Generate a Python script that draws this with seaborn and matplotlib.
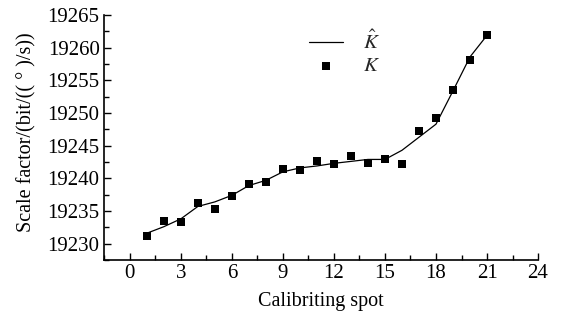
"""Scale factor calibration curve."""

import matplotlib

matplotlib.use("Agg")
import matplotlib.pyplot as plt
import pandas as pd
import seaborn as sns
from matplotlib.ticker import MultipleLocator

spots = list(range(1, 22))
k_measured = [
    19231.2, 19233.5, 19233.3, 19236.3, 19235.3, 19237.3, 19239.1,
    19239.4, 19241.4, 19241.3, 19242.6, 19242.2, 19243.4, 19242.4,
    19242.9, 19242.2, 19247.2, 19249.2, 19253.5, 19258.1, 19262.0,
]
k_fitted = [
    19231.6, 19232.6, 19233.8, 19235.7, 19236.4, 19237.4, 19238.9,
    19239.7, 19241.0, 19241.6, 19241.9, 19242.3, 19242.6, 19242.9,
    19242.9, 19244.3, 19246.3, 19248.3, 19253.4, 19258.6, 19261.9,
]

df = pd.DataFrame({"spot": spots, "K": k_measured, "K_hat": k_fitted})

sns.set_theme(style="ticks")
plt.rcParams["font.family"] = ["Liberation Serif", "DejaVu Serif"]
plt.rcParams["mathtext.fontset"] = "stix"
plt.rcParams["xtick.direction"] = "in"
plt.rcParams["ytick.direction"] = "in"

fig = plt.figure(figsize=(5.64, 3.21), dpi=100)
ax = fig.add_axes([0.184, 0.19, 0.77, 0.763])

sns.lineplot(data=df, x="spot", y="K_hat", ax=ax, color="black", linewidth=0.9,
             label=r"$\hat{K}$")
sns.scatterplot(data=df, x="spot", y="K", ax=ax, color="black", marker="s",
                s=32, edgecolor="black", linewidth=0, label=r"$K$")

ax.set_xlim(-1.53, 24)
ax.set_ylim(19227.5, 19265)
ax.xaxis.set_major_locator(MultipleLocator(3))
ax.xaxis.set_minor_locator(MultipleLocator(1.5))
ax.yaxis.set_major_locator(MultipleLocator(5))
ax.yaxis.set_minor_locator(MultipleLocator(2.5))
ax.tick_params(which="major", length=5, width=1, labelsize=15, color="black",
               labelcolor="black", pad=3)
ax.tick_params(which="minor", length=3.5, width=1, color="black")
for side in ("left", "bottom"):
    ax.spines[side].set_linewidth(1.2)
    ax.spines[side].set_color("black")
sns.despine(ax=ax)

ax.set_xlabel("Calibriting spot", fontsize=14.5, color="black", labelpad=6)
ax.set_ylabel("Scale factor/(bit/(( ° )/s))", fontsize=14.5, color="black")
ax.yaxis.set_label_coords(-0.155, 0.52)

leg = ax.legend(loc="upper left", bbox_to_anchor=(0.43, 1.01), frameon=False,
                fontsize=15, handlelength=1.6, handletextpad=1.0, labelspacing=0.1)

fig.savefig("out.png", dpi=100)
